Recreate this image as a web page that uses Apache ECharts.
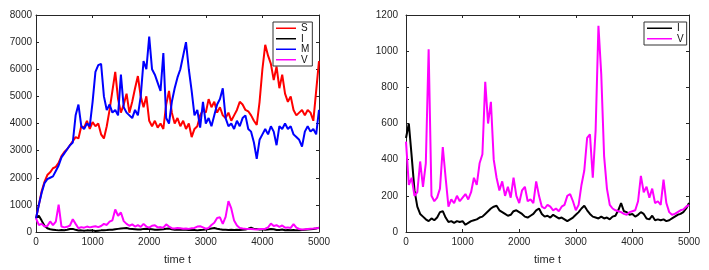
<!DOCTYPE html>
<html>
<head>
<meta charset="utf-8">
<script src="https://cdn.jsdelivr.net/npm/echarts@6/dist/echarts.min.js"></script>
<style>html,body{margin:0;padding:0;background:#fff;}#c{width:709px;height:270px;}</style>
</head>
<body>
<div id="c"></div>
<script>
// sampling step of the time grid (t = 0, 50, ..., 5000)
const tStep = 50;
const xTicks = [0, 1000, 2000, 3000, 4000, 5000];
const yTicksLeft = [0, 1000, 2000, 3000, 4000, 5000, 6000, 7000, 8000];
const yTicksRight = [0, 200, 400, 600, 800, 1000, 1200];

const S = [500,1000,1500,1850,2100,2200,2350,2400,2550,2800,
  2950,3050,3200,3350,3500,3450,3900,3850,4100,3800,
  4050,3900,4000,3600,3450,3900,4500,5200,5900,4900,
  4400,4700,5100,4400,4800,5300,5750,5000,4600,5000,
  4100,3900,4100,3850,4000,3800,4700,5200,4400,4000,
  4200,3900,4100,3800,4000,3500,3800,3900,4300,4500,
  4400,4900,4600,4800,4400,4600,4300,4200,4400,4100,
  4300,4500,4800,4700,4500,4450,4300,4100,3950,4800,
  6000,6900,6500,6200,5600,6100,5300,5800,5100,4800,
  5000,4500,4300,4400,4500,4300,4500,4400,4100,5200,6300];

const I = [520,600,420,230,140,100,85,70,60,75,
  65,80,110,115,80,55,60,50,60,55,
  60,40,50,60,65,70,80,85,100,115,
  130,140,145,120,110,100,90,95,115,120,
  110,100,85,80,90,100,120,130,100,85,
  90,80,95,85,75,80,70,60,70,80,
  95,110,130,145,120,100,85,80,75,85,
  75,80,70,85,90,120,160,115,110,95,
  100,85,95,110,100,75,70,90,65,70,
  65,70,60,65,75,85,95,100,110,130,160];

const M = [500,1000,1450,1800,1950,2000,2050,2250,2450,2750,
  2900,3050,3200,3300,4300,4700,3900,3800,4000,3900,
  4800,5900,6150,6200,5000,4500,4700,4400,4500,4300,
  5800,4600,4400,4300,4200,4500,4300,5000,6300,6000,
  7200,6000,5800,5500,5200,6600,4200,4000,4800,5300,
  5700,6000,6500,7000,6000,5200,4300,4500,3850,4800,
  4000,4200,3900,4300,4700,4900,5300,4200,3900,4000,
  3800,4100,3900,4200,4300,3800,3700,3300,2700,3400,
  3600,3800,3600,3900,3700,3200,3900,3800,4000,3800,
  3900,3600,3500,3400,3150,3700,3900,3700,3800,3600,4500];

const V = [500,260,300,200,220,390,250,380,1010,200,
  170,190,240,470,300,140,180,160,200,170,
  190,210,180,220,300,260,380,430,830,600,
  720,400,300,230,280,200,250,190,300,200,
  160,230,250,170,180,160,280,200,140,130,
  150,140,120,130,115,140,150,200,210,170,
  120,150,260,340,520,540,300,560,1140,870,
  420,240,150,130,120,115,110,100,95,110,
  115,120,170,310,220,250,190,240,160,170,
  150,290,160,110,95,100,110,120,125,140,150];

function pairs(arr){ return arr.map((v,i)=>[i*tStep, v]); }

const axisColor = '#262626';
const labelStyle = {color:'#262626', fontFamily:'Liberation Sans, Arial, sans-serif', fontSize:10,
  formatter:(v)=>String(v)};

function xAxes(gridIndex){
  return [
    {type:'value', gridIndex, min:xTicks[0], max:xTicks[xTicks.length-1], interval:1000,
     name:'time t', nameLocation:'middle', nameGap:22,
     nameTextStyle:{color:'#262626', fontFamily:'Liberation Sans, Arial, sans-serif', fontSize:11},
     axisLine:{show:true, onZero:false, lineStyle:{color:axisColor, width:1}},
     axisTick:{show:true, inside:true, length:3, lineStyle:{color:axisColor}},
     axisLabel:Object.assign({margin:5}, labelStyle),
     splitLine:{show:false}},
    {type:'value', gridIndex, position:'top', min:xTicks[0], max:xTicks[xTicks.length-1], interval:1000,
     axisLine:{show:true, onZero:false, lineStyle:{color:axisColor, width:1}},
     axisTick:{show:true, inside:true, length:3, lineStyle:{color:axisColor}},
     axisLabel:{show:false}, splitLine:{show:false}}
  ];
}
function yAxes(gridIndex, ticks, margin){
  const mx = ticks[ticks.length-1], iv = ticks[1]-ticks[0];
  return [
    {type:'value', gridIndex, min:0, max:mx, interval:iv,
     axisLine:{show:true, onZero:false, lineStyle:{color:axisColor, width:1}},
     axisTick:{show:true, inside:true, length:3, lineStyle:{color:axisColor}},
     axisLabel:Object.assign({margin}, labelStyle),
     splitLine:{show:false}},
    {type:'value', gridIndex, position:'right', min:0, max:mx, interval:iv,
     axisLine:{show:true, onZero:false, lineStyle:{color:axisColor, width:1}},
     axisTick:{show:true, inside:true, length:3, lineStyle:{color:axisColor}},
     axisLabel:{show:false}, splitLine:{show:false}}
  ];
}

function line(name, data, color, xi, yi, w){
  return {name, type:'line', xAxisIndex:xi, yAxisIndex:yi, data:pairs(data),
    showSymbol:false, symbol:'none', animation:false, silent:true,
    lineStyle:{color, width:w}, itemStyle:{color}};
}

const legendText = {color:'#111', fontFamily:'Liberation Sans, Arial, sans-serif', fontSize:10, lineHeight:10.5};

const option = {
  animation:false,
  backgroundColor:'#fff',
  grid:[
    {left:36, top:15, width:283, height:223, containLabel:false},
    {left:406, top:15, width:283, height:223, containLabel:false}
  ],
  xAxis: xAxes(0).concat(xAxes(1)),
  yAxis: yAxes(0, yTicksLeft, 4).concat(yAxes(1, yTicksRight, 8)),
  legend:[
    {data:['S','I','M','V'], orient:'vertical', left:273, top:22, itemGap:0,
     icon:'rect', itemWidth:20, itemHeight:1.5, padding:[1,3,1,3],
     borderColor:'#333', borderWidth:1, backgroundColor:'#fff', textStyle:legendText, selectedMode:false},
    {data:['I','V'], orient:'vertical', left:644, top:22, itemGap:0,
     icon:'rect', itemWidth:25, itemHeight:1.5, padding:[1,3,1,3],
     borderColor:'#333', borderWidth:1, backgroundColor:'#fff', textStyle:legendText, selectedMode:false}
  ],
  series:[
    line('S', S, '#ff0000', 0, 0, 2),
    line('I', I, '#000000', 0, 0, 2),
    line('M', M, '#0000ff', 0, 0, 2),
    line('V', V, '#ff00ff', 0, 0, 2),
    line('I', I, '#000000', 2, 2, 2),
    line('V', V, '#ff00ff', 2, 2, 2)
  ]
};
const chart = echarts.init(document.getElementById('c'), null, {renderer:'canvas'});
chart.setOption(option);
</script>
</body>
</html>
